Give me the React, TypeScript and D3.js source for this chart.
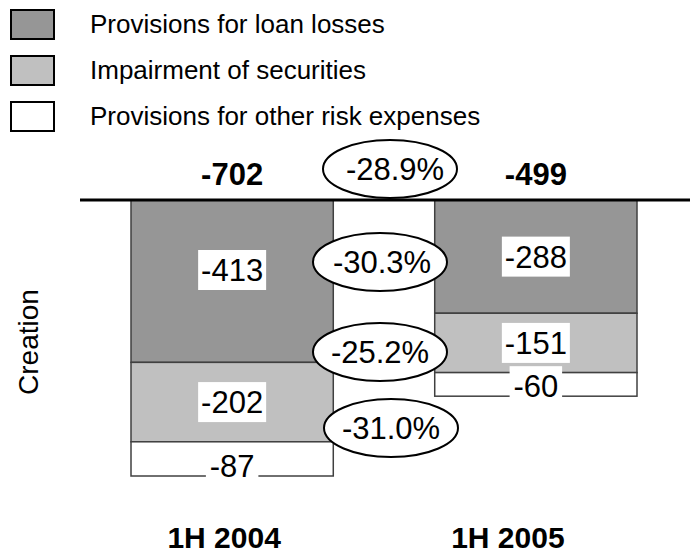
import React from "react";
import * as d3 from "d3";

const categories = ["1H 2004", "1H 2005"];
const seriesNames = ["Provisions for loan losses", "Impairment of securities", "Provisions for other risk expenses"];
const loanLosses = [-413, -288];
const securities = [-202, -151];
const otherRisk = [-87, -60];
const totals = [-702, -499];
const colors = ["#969696", "#c0c0c0", "#ffffff"];

const W = 690, H = 554;
const FONT = "'Liberation Sans', Arial, sans-serif";

export default function App() {
  const series = [loanLosses, securities, otherRisk];
  const x = d3.scaleBand<string>().domain(categories).range([131, 637]).paddingInner(0.334).paddingOuter(0);
  const y = d3.scaleLinear().domain([0, 702]).range([200, 476]);
  const bw = x.bandwidth();

  const segs: { cat: string; i: number; v: number; y0: number; y1: number }[] = [];
  categories.forEach((c, ci) => {
    let acc = 0;
    series.forEach((s, si) => {
      const v = -s[ci];
      segs.push({ cat: c, i: si, v: s[ci], y0: acc, y1: acc + v });
      acc += v;
    });
  });

  // percent change in magnitude, computed from data
  const pct = (a: number, b: number) => ((Math.abs(b) - Math.abs(a)) / Math.abs(a)) * 100;
  const changes = [
    { v: pct(totals[0], totals[1]), cx: 390, cy: 169, dx: 5 },
    { v: pct(loanLosses[0], loanLosses[1]), cx: 380, cy: 262, dx: 2 },
    { v: pct(securities[0], securities[1]), cx: 380, cy: 352, dx: 0 },
    { v: pct(otherRisk[0], otherRisk[1]), cx: 391, cy: 428, dx: 0 },
  ];
  const catOffsets = [-8, -28];
  const LFS = 31;

  return (
    <svg width={W} height={H} style={{ position: "absolute", left: 0, top: 0, fontFamily: FONT }}>
      <rect width={W} height={H} fill="#fff" />
      {seriesNames.map((n, i) => (
        <g key={n} transform={`translate(0, ${i * 46})`}>
          <rect x={11} y={10} width={43} height={29} fill={colors[i]} stroke="#000" strokeWidth={2} />
          <text x={90} y={33} fontSize={26} fill="#000">{n}</text>
        </g>
      ))}
      {segs.map((s, k) => (
        <rect key={k} x={x(s.cat)!} y={y(s.y0)} width={bw} height={y(s.y1) - y(s.y0)}
          fill={colors[s.i]} stroke="#404040" strokeWidth={1.5} />
      ))}
      <line x1={80} x2={690} y1={y(0)} y2={y(0)} stroke="#000" strokeWidth={3} />
      {segs.map((s, k) => {
        const cx = x(s.cat)! + bw / 2;
        const top = y(s.y0), bot = y(s.y1);
        let cy = (top + bot) / 2;
        cy = Math.min(cy, top + 70);
        if (bot - top < 45) cy = Math.max(cy, bot - 10);
        const tw = String(s.v).length * 0.5 * LFS;
        return (
          <g key={"l" + k}>
            <rect x={cx - tw / 2 - 3} y={cy - 20} width={tw + 6} height={40} fill="#fff" />
            <text x={cx} y={cy + 11} textAnchor="middle" fontSize={LFS} fill="#000">{s.v}</text>
          </g>
        );
      })}
      {categories.map((c, i) => (
        <text key={"t" + c} x={x(c)! + bw / 2} y={y(0) - 15} textAnchor="middle" fontSize={31} fontWeight="bold" fill="#000">{totals[i]}</text>
      ))}
      {changes.map((c, i) => (
        <g key={"e" + i}>
          <ellipse cx={c.cx} cy={c.cy} rx={67} ry={29} fill="#fff" stroke="#000" strokeWidth={2} />
          <text x={c.cx + c.dx} y={c.cy + 11} textAnchor="middle" fontSize={LFS} fill="#000">{c.v.toFixed(1) + "%"}</text>
        </g>
      ))}
      {categories.map((c, i) => (
        <text key={"c" + c} x={x(c)! + bw / 2 + catOffsets[i]} y={548} textAnchor="middle" fontSize={30} fontWeight="bold" fill="#000">{c}</text>
      ))}
      <text transform="translate(38, 342) rotate(-90)" textAnchor="middle" fontSize={28} fill="#000">Creation</text>
    </svg>
  );
}
